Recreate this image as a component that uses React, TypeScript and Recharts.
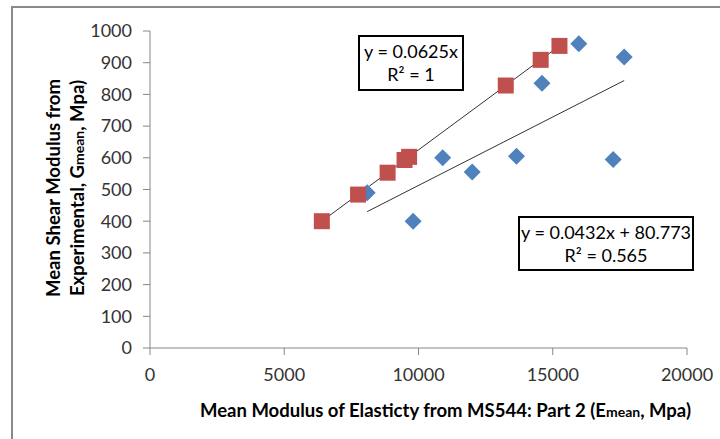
import React from 'react';
import { ScatterChart, Scatter, XAxis, YAxis, ReferenceLine } from 'recharts';

// Emean (x) vs Gmean (y)
const blueX = [8090, 9800, 10900, 12000, 13650, 14600, 15970, 17250, 17660];
const blueY = [490, 400, 600, 555, 605, 835, 960, 595, 918];
const redX = [6400, 7750, 8850, 9480, 9650, 13250, 14550, 15250];
const redY = [400, 484, 553, 593, 603, 828, 909, 953];

const xTicks = [0, 5000, 10000, 15000, 20000];
const yTicks = [0, 100, 200, 300, 400, 500, 600, 700, 800, 900, 1000];

// trend line coefficients from the chart's labels
const blueFit = { slope: 0.0432, intercept: 80.773, r2: '0.565' };
const redFit = { slope: 0.0625, intercept: 0, r2: '1' };

const blueData = blueX.map((x, i) => ({ x, y: blueY[i] }));
const redData = redX.map((x, i) => ({ x, y: redY[i] }));

const FONT = 'Lato, "Open Sans", sans-serif';
const AXIS = '#868686';

function fitSegment(xs: number[], fit: { slope: number; intercept: number }) {
  const x0 = Math.min(...xs);
  const x1 = Math.max(...xs);
  return [
    { x: x0, y: fit.slope * x0 + fit.intercept },
    { x: x1, y: fit.slope * x1 + fit.intercept },
  ];
}

const Diamond = (props: any) => {
  const { cx, cy } = props;
  const r = 8.5;
  return <polygon points={`${cx},${cy - r} ${cx + r},${cy} ${cx},${cy + r} ${cx - r},${cy}`} fill="#4F81BD" />;
};

const Square = (props: any) => {
  const { cx, cy } = props;
  const s = 16;
  return <rect x={cx - s / 2} y={cy - s / 2} width={s} height={s} fill="#C0504D" />;
};

const XTitle = (props: any) => {
  const { viewBox } = props;
  const cx = viewBox.x + viewBox.width / 2 + 27;
  return (
    <text x={cx} y={417} textAnchor="middle" fontFamily={FONT} fontWeight="bold" fontSize={18.5} fill="#000">
      Mean Modulus of Elasticty from MS544: Part 2 (E<tspan fontSize={14}>mean</tspan>, Mpa)
    </text>
  );
};

const YTitle = () => {
  const cy = 188;
  return (
    <g fontFamily={FONT} fontWeight="bold" fontSize={18.5} fill="#000">
      <text x={60} y={cy} textAnchor="middle" transform={`rotate(-90 60 ${cy})`}>
        Mean Shear Modulus from
      </text>
      <text x={84} y={cy} textAnchor="middle" transform={`rotate(-90 84 ${cy})`}>
        Experimental, G<tspan fontSize={14}>mean</tspan>, Mpa)
      </text>
    </g>
  );
};

const boxStyle: React.CSSProperties = {
  position: 'absolute',
  border: '2px solid #000',
  background: '#fff',
  fontFamily: FONT,
  fontSize: 18,
  color: '#000',
  textAlign: 'center',
  lineHeight: '23px',
  boxSizing: 'border-box',
  whiteSpace: 'nowrap',
};

export default function App() {
  const blueSeg = fitSegment(blueX, blueFit);
  const redSeg = fitSegment(redX, redFit);
  return (
    <div style={{ position: 'fixed', left: 0, top: 0, width: 720, height: 439, overflow: 'hidden', background: '#fff' }}>
      <div
        style={{
          position: 'absolute',
          left: 11,
          top: 6,
          width: 800,
          height: 600,
          border: '2px solid #898989',
        }}
      />
      <ScatterChart
        width={720}
        height={439}
        margin={{ top: 31, right: 33, bottom: 0, left: 0 }}
        style={{ position: 'absolute', left: 0, top: 0 }}
      >
        <XAxis
          type="number"
          dataKey="x"
          domain={[0, 20000]}
          ticks={xTicks}
          interval={0}
          height={91}
          axisLine={{ stroke: AXIS }}
          tickLine={{ stroke: AXIS }}
          tickSize={7}
          tickMargin={13}
          tick={{ fontFamily: FONT, fontSize: 18, fill: '#333' }}
          label={<XTitle />}
        />
        <YAxis
          type="number"
          dataKey="y"
          domain={[0, 1000]}
          ticks={yTicks}
          interval={0}
          width={150}
          axisLine={{ stroke: AXIS }}
          tickLine={{ stroke: AXIS }}
          tickSize={7}
          tickMargin={11}
          tick={{ fontFamily: FONT, fontSize: 18, fill: '#333' }}
          label={<YTitle />}
        />
        <Scatter data={blueData} shape={<Diamond />} isAnimationActive={false} />
        <Scatter data={redData} shape={<Square />} isAnimationActive={false} />
        <ReferenceLine segment={redSeg} stroke="#333" strokeWidth={1} ifOverflow="visible" />
        <ReferenceLine segment={blueSeg} stroke="#333" strokeWidth={1} ifOverflow="visible" />
      </ScatterChart>
      <div style={{ ...boxStyle, left: 358, top: 35, width: 106, height: 56, paddingTop: 3 }}>
        y = {redFit.slope}x
        <br />
        R² = {redFit.r2}
      </div>
      <div style={{ ...boxStyle, left: 518, top: 216, width: 176, height: 55, paddingTop: 3 }}>
        y = {blueFit.slope}x + {blueFit.intercept}
        <br />
        R² = {blueFit.r2}
      </div>
    </div>
  );
}
